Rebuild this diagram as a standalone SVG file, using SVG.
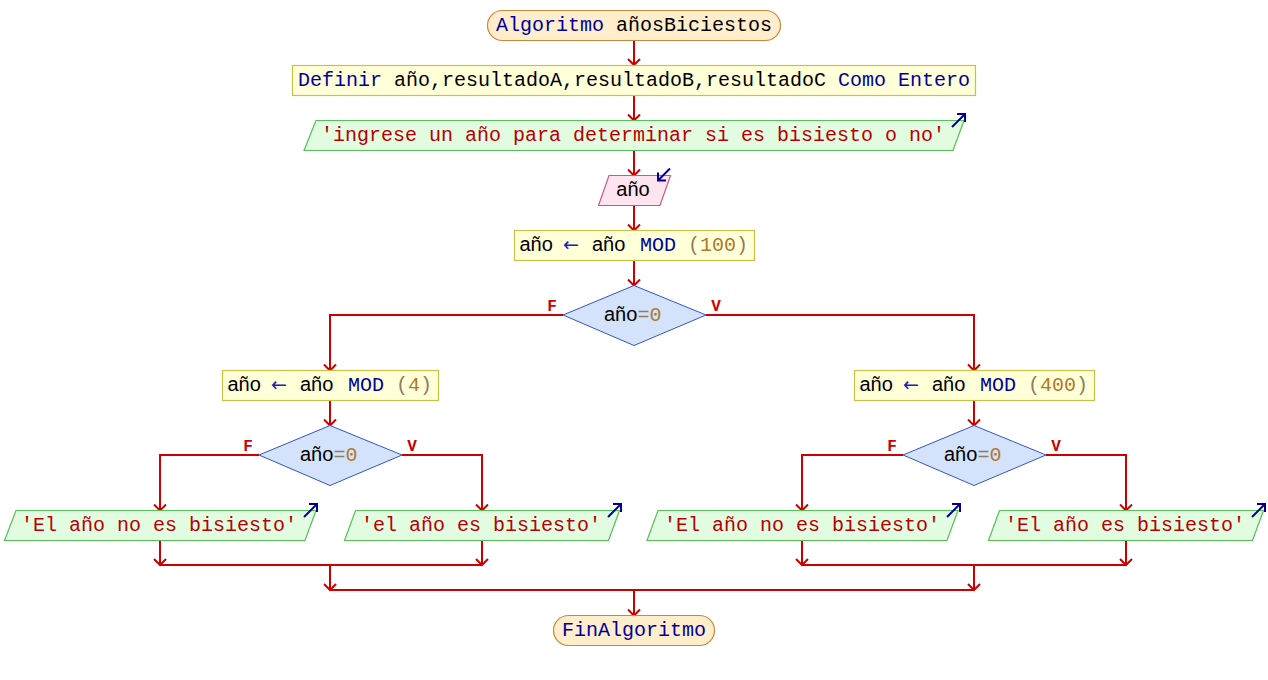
<svg xmlns="http://www.w3.org/2000/svg" width="1268" height="680" viewBox="0 0 1268 680">
<style>
.term{fill:#ffedcc;stroke:#c8883a;stroke-width:1.2}
.proc{fill:#ffffd8;stroke:#c8c048;stroke-width:1.2}
.out{fill:#e2fce2;stroke:#55c055;stroke-width:1.2}
.inp{fill:#fde4ef;stroke:#c45a88;stroke-width:1.2}
.dec{fill:#d4e2fc;stroke:#3355cc;stroke-width:1}
.mono{font-family:"Liberation Mono","DejaVu Sans Mono",monospace;font-size:20px}
.sans{font-family:"Liberation Sans",Arial,sans-serif;font-size:20px}
.kw{fill:#00009c}
.id{fill:#000000}
.str{fill:#b80000}
.num{fill:#b07828}
.op{fill:#8c7c5c}
.asg{fill:#2020b0;font-family:"DejaVu Sans",sans-serif;font-size:19px}
.lbl{font-family:"Liberation Mono","DejaVu Sans Mono",monospace;font-size:16px;font-weight:bold;fill:#cc0000}
.con{fill:none;stroke:#cc0000;stroke-width:2}
.icon{fill:none;stroke:#000099;stroke-width:2}
</style>
<defs>
<marker id="ah" markerUnits="userSpaceOnUse" markerWidth="16" markerHeight="16" refX="8" refY="8" orient="auto" overflow="visible">
<path d="M2,2 L8,8 L2,14" fill="none" stroke="#cc0000" stroke-width="2"/>
</marker>
</defs>

<g id="connectors">
<path class="con" d="M634,40.5 V65" marker-end="url(#ah)"/>
<path class="con" d="M634,95.5 V120.5" marker-end="url(#ah)"/>
<path class="con" d="M634,150.5 V175.5" marker-end="url(#ah)"/>
<path class="con" d="M634,205.5 V230.5" marker-end="url(#ah)"/>
<path class="con" d="M634,260.5 V285.5" marker-end="url(#ah)"/>
<path class="con" d="M563,315 H330 V370.5" marker-end="url(#ah)"/>
<path class="con" d="M706,315 H974 V370.5" marker-end="url(#ah)"/>
<path class="con" d="M330,400.5 V425.5" marker-end="url(#ah)"/>
<path class="con" d="M974,400.5 V425.5" marker-end="url(#ah)"/>
<path class="con" d="M259,455 H160 V510.5" marker-end="url(#ah)"/>
<path class="con" d="M402,455 H482 V510.5" marker-end="url(#ah)"/>
<path class="con" d="M903,455 H802 V510.5" marker-end="url(#ah)"/>
<path class="con" d="M1046,455 H1126 V510.5" marker-end="url(#ah)"/>
<path class="con" d="M160,540.5 V565" marker-end="url(#ah)"/>
<path class="con" d="M482,540.5 V565" marker-end="url(#ah)"/>
<path class="con" d="M160,565 H482"/>
<path class="con" d="M330,565 V590" marker-end="url(#ah)"/>
<path class="con" d="M802,540.5 V565" marker-end="url(#ah)"/>
<path class="con" d="M1126,540.5 V565" marker-end="url(#ah)"/>
<path class="con" d="M802,565 H1126"/>
<path class="con" d="M974,565 V590" marker-end="url(#ah)"/>
<path class="con" d="M330,590 H974"/>
<path class="con" d="M634,590 V615.5" marker-end="url(#ah)"/>
<text class="lbl" x="552" y="310.5" text-anchor="middle">F</text>
<text class="lbl" x="716" y="310.5" text-anchor="middle">V</text>
<text class="lbl" x="248" y="450.5" text-anchor="middle">F</text>
<text class="lbl" x="412" y="450.5" text-anchor="middle">V</text>
<text class="lbl" x="892" y="450.5" text-anchor="middle">F</text>
<text class="lbl" x="1056" y="450.5" text-anchor="middle">V</text>
</g>

<g id="start">
<rect class="term" x="487.5" y="10.5" width="293" height="30" rx="15" ry="15"/>
<text class="mono" x="634" y="31" text-anchor="middle"><tspan class="kw">Algoritmo</tspan><tspan class="id"> añosBiciestos</tspan></text>
</g>

<g id="definir">
<rect class="proc" x="292.5" y="65.5" width="683" height="30"/>
<text class="mono" x="634" y="86" text-anchor="middle"><tspan class="kw">Definir</tspan><tspan class="id"> año,resultadoA,resultadoB,resultadoC </tspan><tspan class="kw">Como Entero</tspan></text>
</g>

<g id="escribir1">
<polygon class="out" points="316,120.5 964,120.5 953,150.5 304,150.5"/>
<text class="mono str" x="633" y="141" text-anchor="middle">'ingrese un año para determinar si es bisiesto o no'</text>
<path class="icon" d="M952,127 L965,114 M957,114 L965,114 L965,122"/>
</g>

<g id="leer">
<polygon class="inp" points="609,175.5 670.5,175.5 660,205.5 598.5,205.5"/>
<text class="sans id" x="633" y="195.5" text-anchor="middle">año</text>
<path class="icon" d="M670,168.5 L658,180.5 M658,172.5 L658,180.5 L666,180.5"/>
</g>

<g id="asignar1">
<rect class="proc" x="514.5" y="230.5" width="240" height="30"/>
<text class="sans id" x="519.5" y="251">año</text>
<text class="asg" x="563" y="250.5">←</text>
<text class="sans id" x="592" y="251">año</text>
<text class="mono kw" x="640" y="251">MOD</text>
<text class="mono" x="688" y="251"><tspan class="op">(</tspan><tspan class="num">100</tspan><tspan class="op">)</tspan></text>
</g>

<g id="si1">
<polygon class="dec" points="563,315 634,285.5 706,315 634,345.5"/>
<text x="604" y="320.5"><tspan class="sans id">año</tspan><tspan class="mono op">=</tspan><tspan class="mono num">0</tspan></text>
</g>

<g id="asignar2">
<rect class="proc" x="222.5" y="370.5" width="216" height="30"/>
<text class="sans id" x="227.5" y="391">año</text>
<text class="asg" x="271" y="390.5">←</text>
<text class="sans id" x="300" y="391">año</text>
<text class="mono kw" x="348" y="391">MOD</text>
<text class="mono" x="396" y="391"><tspan class="op">(</tspan><tspan class="num">4</tspan><tspan class="op">)</tspan></text>
</g>

<g id="asignar3">
<rect class="proc" x="854.5" y="370.5" width="240" height="30"/>
<text class="sans id" x="859.5" y="391">año</text>
<text class="asg" x="903" y="390.5">←</text>
<text class="sans id" x="932" y="391">año</text>
<text class="mono kw" x="980" y="391">MOD</text>
<text class="mono" x="1028" y="391"><tspan class="op">(</tspan><tspan class="num">400</tspan><tspan class="op">)</tspan></text>
</g>

<g id="si2">
<polygon class="dec" points="259,455 330,425.5 402,455 330,485.5"/>
<text x="300" y="460.5"><tspan class="sans id">año</tspan><tspan class="mono op">=</tspan><tspan class="mono num">0</tspan></text>
</g>

<g id="si3">
<polygon class="dec" points="903,455 974,425.5 1046,455 974,485.5"/>
<text x="944" y="460.5"><tspan class="sans id">año</tspan><tspan class="mono op">=</tspan><tspan class="mono num">0</tspan></text>
</g>

<g id="escribir2">
<polygon class="out" points="16,510.5 316,510.5 305,540.5 4.5,540.5"/>
<text class="mono str" x="159" y="531" text-anchor="middle">'El año no es bisiesto'</text>
<path class="icon" d="M304,517 L317,504 M309,504 L317,504 L317,512"/>
</g>

<g id="escribir3">
<polygon class="out" points="355.5,510.5 619.5,510.5 608.5,540.5 344.5,540.5"/>
<text class="mono str" x="481" y="531" text-anchor="middle">'el año es bisiesto'</text>
<path class="icon" d="M608,517 L621,504 M613,504 L621,504 L621,512"/>
</g>

<g id="escribir4">
<polygon class="out" points="658,510.5 958,510.5 947,540.5 647,540.5"/>
<text class="mono str" x="802" y="531" text-anchor="middle">'El año no es bisiesto'</text>
<path class="icon" d="M947,517 L960,504 M952,504 L960,504 L960,512"/>
</g>

<g id="escribir5">
<polygon class="out" points="999.5,510.5 1263.5,510.5 1252.5,540.5 988.5,540.5"/>
<text class="mono str" x="1125" y="531" text-anchor="middle">'El año es bisiesto'</text>
<path class="icon" d="M1252,517 L1265,504 M1257,504 L1265,504 L1265,512"/>
</g>

<g id="fin">
<rect class="term" x="553.5" y="615.5" width="161" height="30" rx="15" ry="15"/>
<text class="mono kw" x="634" y="636" text-anchor="middle">FinAlgoritmo</text>
</g>
</svg>
